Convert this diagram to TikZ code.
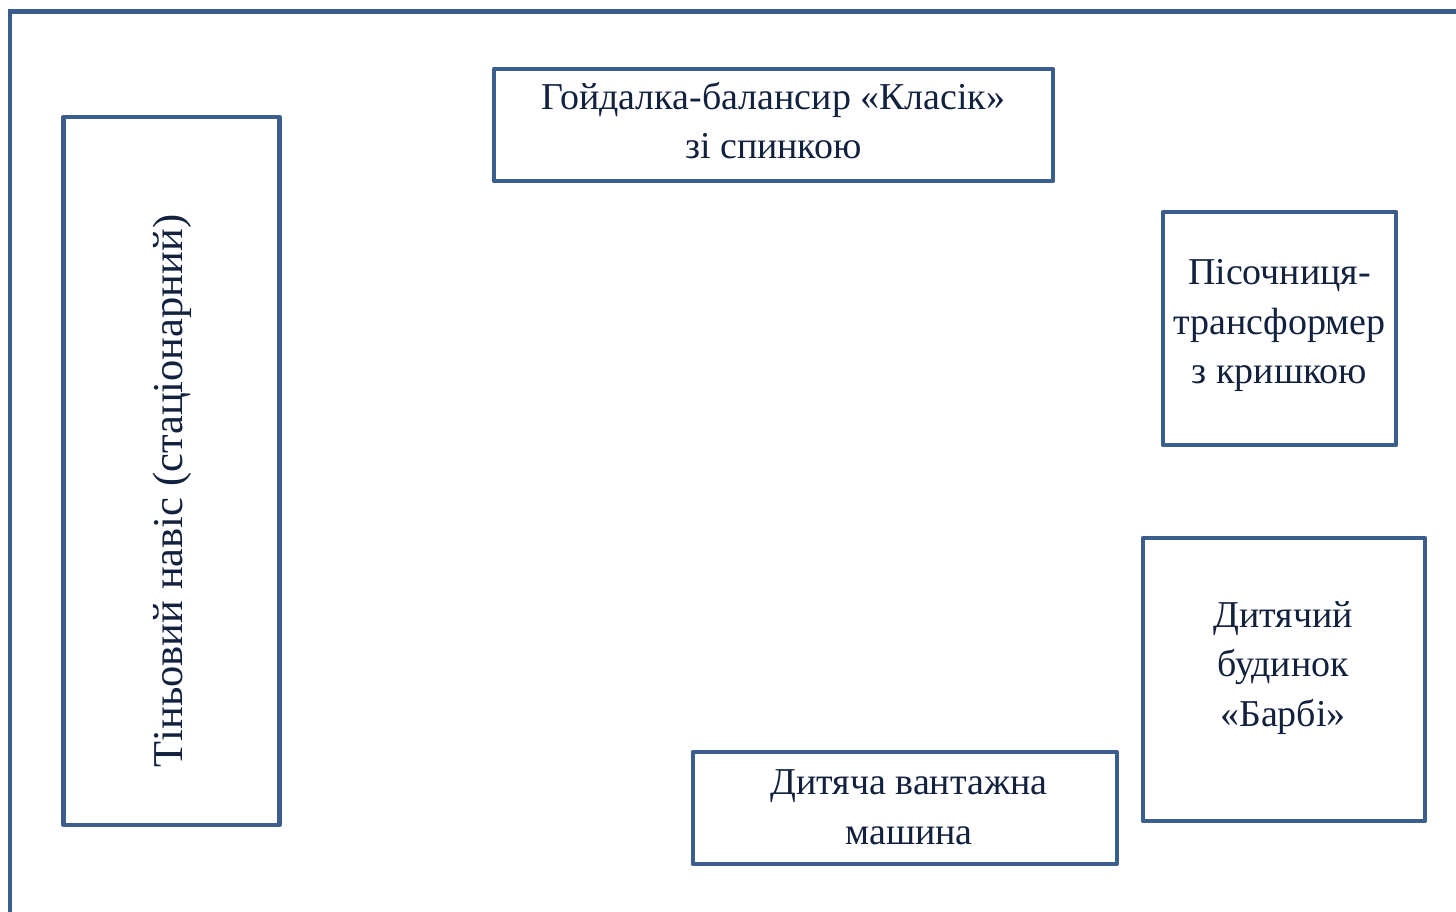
\documentclass[tikz,border=0pt]{standalone}
\usepackage{fontspec}
\setmainfont{Liberation Serif}
\definecolor{planblue}{RGB}{59,94,140}
\definecolor{inknavy}{RGB}{18,33,62}
\newcommand{\plancol}{planblue}
\newcommand{\inkcol}{inknavy}
\newcommand{\planfont}{\fontsize{21.6}{28.2}\selectfont}
\newcommand{\sidefont}{\fontsize{24.2}{30}\selectfont}

\begin{document}
\begin{tikzpicture}[x=0.02cm, y=-0.02cm,
        frame/.style = {draw=\plancol, line width=0.1cm},
        box/.style = {draw=\plancol, line width=0.09cm, line join=round, rectangle, inner sep=0pt},
        lbl/.style = {text=\inkcol, font=\planfont, align=center, inner sep=0pt}]
        \useasboundingbox (0,0) rectangle (1456,912);
        \clip (0,0) rectangle (1456,912);
        %\draw[help lines] (0,0) grid[xstep=50, ystep=-50] (1456,912);
        \draw[frame] (10,940) |- (1480,11.5);
        \node[box, minimum width=4.32cm, minimum height=14.16cm] (canopy) at (171.5,471) {};
        \node[lbl, font=\sidefont, rotate=90] (canopyTxt) at (172,491) {Тіньовий навіс (стаціонарний)};
        \node[box, minimum width=11.18cm, minimum height=2.24cm] (swing) at (773.5,125) {};
        \node[lbl] (swingTxt) at (773.5,120.5) {Гойдалка-балансир «Класік»\\зі спинкою};
        \node[box, minimum width=4.66cm, minimum height=4.66cm] (sandbox) at (1279.5,328.5) {};
        \node[lbl] (sandboxTxt) at (1279.5,325.5) {Пісочниця-\\трансформер\\з кришкою};
        \node[box, minimum width=5.64cm, minimum height=5.66cm] (house) at (1284,679.5) {};
        \node[lbl] (houseTxt) at (1283,668) {Дитячий\\будинок\\«Барбі»};
        \node[box, minimum width=8.48cm, minimum height=2.24cm] (truck) at (905,808) {};
        \node[lbl] (truckTxt) at (909,807) {Дитяча вантажна\\машина};
    \end{tikzpicture}
\end{document}
